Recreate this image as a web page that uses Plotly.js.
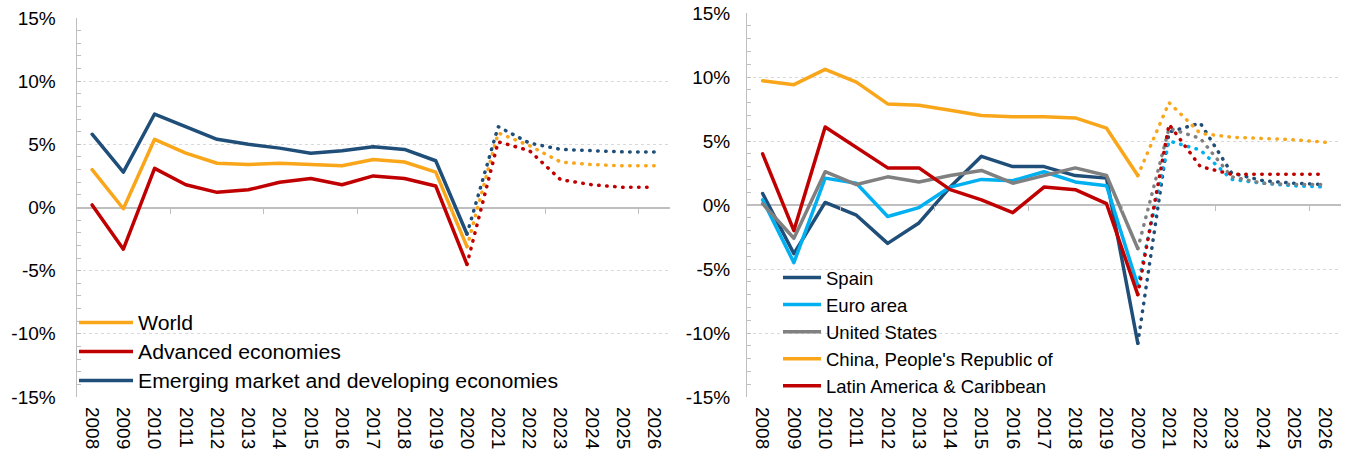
<!DOCTYPE html>
<html><head><meta charset="utf-8">
<script src="https://cdn.plot.ly/plotly-3.0.1.min.js"></script>
<style>
html,body{margin:0;padding:0;background:#fff;}
#chart{width:1347px;height:461px;}
.scatterlayer .js-line{stroke-linecap:round;stroke-linejoin:round;}
</style>
</head><body><div id="chart"></div><script>
// ---- data ----
const years = [2008,2009,2010,2011,2012,2013,2014,2015,2016,2017,2018,2019,2020,2021,2022,2023,2024,2025,2026];
const yearLabels = years.map(String);
const yTickValues = [-15,-10,-5,0,5,10,15];
const yTickLabels = ['-15%','-10%','-5%','0%','5%','10%','15%'];
const boundaryTicks = [2010.5,2013.5,2016.5,2019.5,2022.5,2025.5];
const lastActualYear = 2020;

// left panel
const leftNames = ['World','Advanced economies','Emerging market and developing economies'];
const world     = [3.0,-0.1,5.4,4.3,3.5,3.4,3.5,3.4,3.3,3.8,3.6,2.8,-3.1,5.9,4.9,3.6,3.4,3.3,3.3];
const advanced  = [0.2,-3.3,3.1,1.8,1.2,1.4,2.0,2.3,1.8,2.5,2.3,1.7,-4.5,5.2,4.5,2.2,1.8,1.6,1.6];
const emerging  = [5.8,2.8,7.4,6.4,5.4,5.0,4.7,4.3,4.5,4.8,4.6,3.7,-2.1,6.4,5.1,4.6,4.5,4.4,4.4];
// right panel
const rightNames = ['Spain','Euro area','United States',"China, People's Republic of",'Latin America & Caribbean'];
const spain     = [0.9,-3.8,0.2,-0.8,-3.0,-1.4,1.4,3.8,3.0,3.0,2.3,2.1,-10.8,5.7,6.4,2.5,1.9,1.7,1.6];
const euroArea  = [0.4,-4.5,2.1,1.7,-0.9,-0.2,1.4,2.0,1.9,2.6,1.8,1.5,-6.3,5.0,4.3,2.0,1.7,1.5,1.4];
const unitedStates = [0.1,-2.6,2.6,1.6,2.2,1.8,2.3,2.7,1.7,2.3,2.9,2.3,-3.4,6.0,5.2,2.2,1.7,1.6,1.6];
const china     = [9.7,9.4,10.6,9.6,7.9,7.8,7.4,7.0,6.9,6.9,6.8,6.0,2.3,8.0,5.6,5.3,5.2,5.1,4.9];
const latam     = [4.0,-2.0,6.1,4.5,2.9,2.9,1.2,0.4,-0.6,1.4,1.2,0.1,-7.0,6.3,3.0,2.4,2.4,2.4,2.4];

// ---- style ----
const W = 1347, H = 461;
const fx = p => p / W, fy = p => 1 - p / H;
const FONT = 'Liberation Sans, Arial, sans-serif';
const GRID = '#d9d9d9', AXIS = '#bfbfbf';
const C = {orange:'#FAA61A', red:'#C00000', navy:'#1F4E79', sky:'#00B0F0', gray:'#808080'};
const LW = 3.5;

function series(name, vals, color, xa, ya, legend){
  const split = years.indexOf(lastActualYear);
  return [
    {type:'scatter', mode:'lines', name, legend, xaxis:xa, yaxis:ya,
     x: years.slice(0, split+1), y: vals.slice(0, split+1),
     line:{color, width:LW}, hoverinfo:'skip'},
    {type:'scatter', mode:'lines', name, legend, xaxis:xa, yaxis:ya, showlegend:false,
     x: years.slice(split), y: vals.slice(split),
     line:{color, width:LW, dash:'0.5px,7.5px'}, hoverinfo:'skip'}
  ];
}

const data = [
  ...series(leftNames[0], world, C.orange, 'x', 'y', 'legend'),
  ...series(leftNames[1], advanced, C.red, 'x', 'y', 'legend'),
  ...series(leftNames[2], emerging, C.navy, 'x', 'y', 'legend'),
  ...series(rightNames[0], spain, C.navy, 'x2', 'y2', 'legend2'),
  ...series(rightNames[1], euroArea, C.sky, 'x2', 'y2', 'legend2'),
  ...series(rightNames[2], unitedStates, C.gray, 'x2', 'y2', 'legend2'),
  ...series(rightNames[3], china, C.orange, 'x2', 'y2', 'legend2'),
  ...series(rightNames[4], latam, C.red, 'x2', 'y2', 'legend2'),
  {type:'scatter', mode:'lines', x:[], y:[], xaxis:'x3', yaxis:'y', showlegend:false},
  {type:'scatter', mode:'lines', x:[], y:[], xaxis:'x4', yaxis:'y2', showlegend:false}
];

const tickfont = {family:FONT, size:19, color:'#000'};
function yax(top, bottom, anchor, standoff){
  return {domain:[fy(bottom), fy(top)], anchor, range:[-15,15],
    tickmode:'array', tickvals:yTickValues, ticktext:yTickLabels,
    ticks:'inside', ticklen:4, tickcolor:AXIS, tickwidth:1,
    showline:true, linecolor:AXIS, linewidth:1,
    showgrid:true, gridcolor:GRID, griddash:'dot', gridwidth:1,
    zeroline:true, zerolinecolor:AXIS, zerolinewidth:2,
    minor:{tickmode:'linear', tick0:0, dtick:1, ticks:'inside', ticklen:4, tickcolor:AXIS, tickwidth:1, showgrid:false},
    tickfont, ticklabelstandoff:standoff, fixedrange:true};
}
function xax(left, right, anchor){
  return {domain:[fx(left), fx(right)], anchor, range:[2007.5, 2026.5],
    tickmode:'array', tickvals:years, ticktext:yearLabels, tickangle:90,
    ticks:'', showgrid:false, zeroline:false, showline:false,
    tickfont, ticklabelstandoff:9, fixedrange:true};
}
function tickAx(over, left, right, top, bottom){
  const zeroPix = top + (bottom - top) / 2;
  return {overlaying:over, anchor:'free', position:fy(zeroPix), domain:[fx(left), fx(right)],
    range:[2007.5, 2026.5], tickmode:'array', tickvals:boundaryTicks,
    ticks:'outside', ticklen:5, tickcolor:AXIS, tickwidth:1, showticklabels:false,
    showgrid:false, zeroline:false, showline:false, side:'bottom', fixedrange:true};
}

const L = {left:76.5, right:670, top:18, bottom:397};
const R = {left:747, right:1341, top:13, bottom:397};

const layout = {
  width:W, height:H, margin:{l:0,r:0,t:0,b:0,pad:0},
  paper_bgcolor:'#fff', plot_bgcolor:'#fff', showlegend:true,
  font:{family:FONT, color:'#000'},
  xaxis: xax(L.left, L.right, 'y'),
  yaxis: yax(L.top, L.bottom, 'x', 16),
  xaxis2: xax(R.left, R.right, 'y2'),
  yaxis2: yax(R.top, R.bottom, 'x2', 12),
  xaxis3: tickAx('x', L.left, L.right, L.top, L.bottom),
  xaxis4: tickAx('x2', R.left, R.right, R.top, R.bottom),
  legend:{x:fx(74), xanchor:'left', y:fy(303), yanchor:'top', bgcolor:'rgba(0,0,0,0)', borderwidth:0,
    font:{family:FONT, size:20, color:'#000'}, itemwidth:54, traceorder:'normal'},
  legend2:{x:fx(778), xanchor:'left', y:fy(259), yanchor:'top', bgcolor:'rgba(0,0,0,0)', borderwidth:0,
    font:{family:FONT, size:18.5, color:'#000'}, itemwidth:38, traceorder:'normal'}
};

// widths the longest legend label takes in the picture (text is drawn a little wide there)
const leftLegendWidth = 420;
const rightLegendWidth = 287;
const norm = s => s.replace(/\s+/g, ' ').replace(/[\u2018\u2019]/g, "'").trim();

function stretchLegends(){
  const texts = Array.from(document.querySelectorAll('.legendtext'));
  if (!texts.length) return;
  const groups = [
    texts.filter(t => leftNames.includes(norm(t.textContent))),
    texts.filter(t => rightNames.includes(norm(t.textContent)))
  ];
  const targets = [leftLegendWidth, rightLegendWidth];
  groups.forEach((g, i) => {
    if (!g.length) return;
    g.forEach(t => { t.removeAttribute('textLength'); t.removeAttribute('lengthAdjust'); });
    const widths = g.map(t => t.getComputedTextLength());
    const maxW = Math.max(...widths);
    if (!(maxW > 0)) return;
    const f = targets[i] / maxW;
    g.forEach((t, k) => {
      t.setAttribute('textLength', (widths[k] * f).toFixed(2));
      t.setAttribute('lengthAdjust', 'spacingAndGlyphs');
    });
  });
  document.querySelectorAll('.scrollbox').forEach(e => e.removeAttribute('clip-path'));
}

const gd = document.getElementById('chart');
const observer = new MutationObserver(() => stretchLegends());
observer.observe(gd, {childList:true, subtree:true, characterData:true});
Plotly.newPlot(gd, data, layout, {displayModeBar:false, staticPlot:true}).then(() => {
  stretchLegends();
  gd.on('plotly_afterplot', stretchLegends);
  requestAnimationFrame(stretchLegends);
  setTimeout(stretchLegends, 30);
});
</script></body></html>
